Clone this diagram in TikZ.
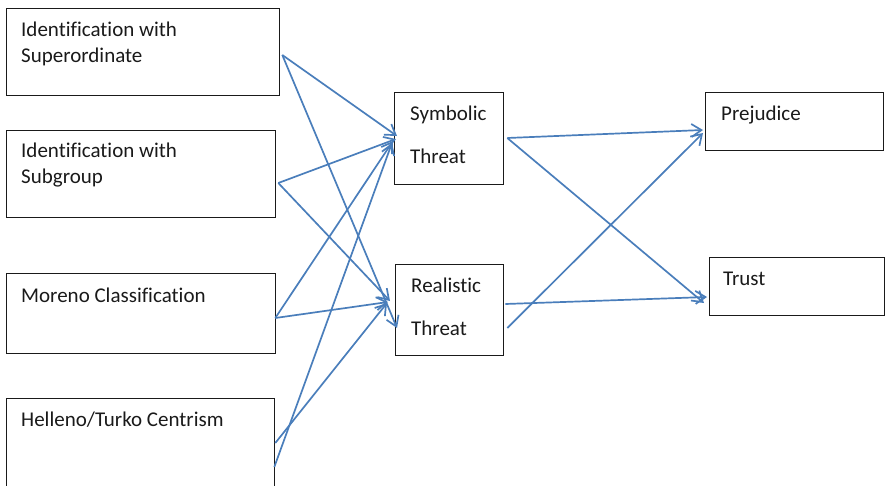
\documentclass[tikz,border=0pt]{standalone}
\usepackage{fontspec}
\setmainfont[Ligatures=CommonOff]{Carlito}
\usetikzlibrary{arrows.meta,calc}
\definecolor{linkblue}{HTML}{4A7EBB}
\definecolor{ink}{HTML}{1A1A1A}
\begin{document}
\begin{tikzpicture}[x=1pt,y=-1pt,
  box/.style={draw=ink, line width=1.3pt, inner sep=0pt, anchor=north west},
  lbl/.style={anchor=base west, inner sep=0pt, text=ink, font=\fontsize{21}{26}\selectfont},
  link/.style={draw=linkblue, line width=1.7pt,
    -{Straight Barb[length=10pt,width=13pt,line width=1.7pt]}}]
\useasboundingbox (0,0) rectangle (886,485);

% predictor boxes
\node[box, minimum width=273pt, minimum height=87pt] (sup) at (6,8) {};
\node[box, minimum width=269pt, minimum height=87pt] (sub) at (6,130) {};
\node[box, minimum width=269pt, minimum height=80pt] (mor) at (6,273) {};
\node[box, minimum width=268pt, minimum height=100pt] (hel) at (6,398) {};
% mediator boxes
\node[box, minimum width=109pt, minimum height=92pt] (sym) at (394,92) {};
\node[box, minimum width=108pt, minimum height=91pt] (rea) at (395,264) {};
% outcome boxes
\node[box, minimum width=178pt, minimum height=58pt] (pre) at (705,92) {};
\node[box, minimum width=175pt, minimum height=58pt] (tru) at (709,257) {};

% labels
\node[lbl] (t1a) at (21,36) {Identification with};
\node[lbl] (t1b) at (21,62) {Superordinate};
\node[lbl] (t2a) at (21,157) {Identification with};
\node[lbl] (t2b) at (21,183) {Subgroup};
\node[lbl] (t3) at (21,302) {Moreno Classification};
\node[lbl] (t4) at (21,426) {Helleno/Turko Centrism};
\node[lbl] (t5a) at (410,120) {Symbolic};
\node[lbl] (t5b) at (410,163) {Threat};
\node[lbl] (t6a) at (411,292) {Realistic};
\node[lbl] (t6b) at (411,335) {Threat};
\node[lbl] (t7) at (721,120) {Prejudice};
\node[lbl] (t8) at (723,285) {Trust};

% predictors -> threats
\draw[link] ($(sup.north east)+(2,47)$) -- ($(sym.north west)+(3,44)$);
\draw[link] ($(sup.north east)+(2,47)$) -- ($(rea.north west)+(2,64)$);
\draw[link] ($(sub.north east)+(2,53)$) -- ($(sym.north west)+(2,47)$);
\draw[link] ($(sub.north east)+(2,53)$) -- ($(rea.north west)+(-5,37)$);
\draw[link] ($(mor.north east)+(-1,45)$) -- ($(sym.north west)+(-1,49)$);
\draw[link] ($(mor.north east)+(-1,45)$) -- ($(rea.north west)+(-7,38)$);
\draw[link] ($(hel.north east)+(0,45)$) -- ($(rea.north west)+(-8,39)$);
\draw[link] ($(hel.north east)+(-1,69)$) -- ($(sym.north west)+(-2,51)$);

% threats -> outcomes
\draw[link] ($(sym.north east)+(3,46)$) -- ($(pre.north west)+(-2,38)$);
\draw[link] ($(sym.north east)+(3,46)$) -- ($(tru.north west)+(-5,46)$);
\draw[link] ($(rea.north east)+(1,40)$) -- ($(tru.north west)+(-2,40)$);
\draw[link] ($(rea.north east)+(3,64)$) -- ($(pre.north west)+(-2,41)$);
\end{tikzpicture}
\end{document}
